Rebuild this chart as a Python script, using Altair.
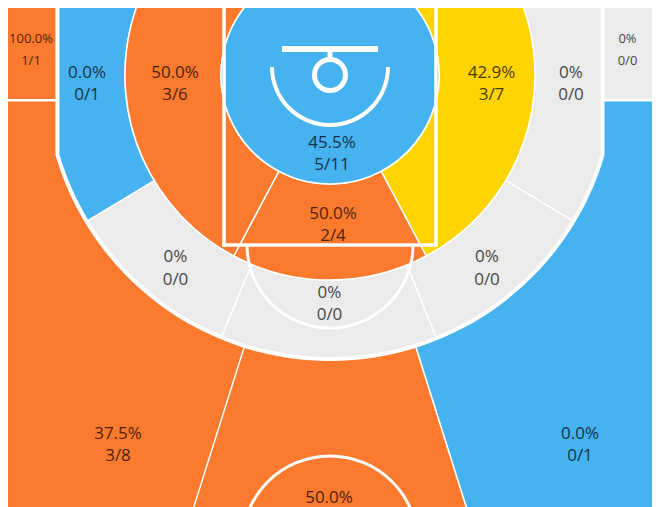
import math
import altair as alt
import pandas as pd

# ---------------- data ----------------
zone_keys = ["left_corner3", "left_base_mid", "left_inner", "restricted", "right_inner",
             "right_base_mid", "right_corner3", "center_inner", "left_wing_mid", "center_mid",
             "right_wing_mid", "left_wing3", "center3", "right_wing3"]
zone_pct = ["100.0%", "0.0%", "50.0%", "45.5%", "42.9%", "0%", "0%", "50.0%", "0%", "0%",
            "0%", "37.5%", "50.0%", "0.0%"]
zone_made_att = ["1/1", "0/1", "3/6", "5/11", "3/7", "0/0", "0/0", "2/4", "0/0", "0/0",
                 "0/0", "3/8", "", "0/1"]
zone_level = ["hot", "cold", "hot", "cold", "avg", "none", "none", "hot", "none", "none",
              "none", "hot", "hot", "cold"]

level_names = ["hot", "avg", "cold", "none"]
level_colors = ["#FC7A2E", "#FFD400", "#47B2F0", "#EBEBEB"]

data = pd.DataFrame({"zone": zone_keys, "pct": zone_pct, "made_att": zone_made_att,
                     "level": zone_level})

# ---------------- court layout (pixel geometry) ----------------
CX, CY = 330, 75          # basket centre
R_C, R_IN, R_3 = 109, 205, 284

def theta(a_deg):
    # angle measured from straight down, positive toward the left side
    return math.pi + math.radians(a_deg)

far_sectors = [("right_wing3", 0, 1300, -113, -17.5),
               ("center3", 0, 1300, -17.5, 17.5)]
outer_band = [("right_base_mid", R_IN, R_3, -180, -59),
              ("right_wing_mid", R_IN, R_3, -59, -22),
              ("center_mid", R_IN, R_3, -22, 22.5),
              ("left_wing_mid", R_IN, R_3, 22.5, 59),
              ("left_base_mid", R_IN, R_3, 59, 180)]
inner_band = [("right_inner", R_C, R_IN, -180, -28),
              ("center_inner", R_C, R_IN, -28, 28),
              ("left_inner", R_C, R_IN, 28, 180)]
circle_zone = [("restricted", 0, R_C, -180, 180)]

background_rect = [("left_wing3", 8, 652, 8, 507)]
edge_rects = [("left_corner3", 8, 57, 8, 100),
              ("right_corner3", 603, 652, 8, 100),
              ("left_wing3", 8, 57, 100, 153),
              ("right_wing3", 603, 652, 100, 153)]

white_rects = [(55.5, 59.5, 0, 153), (600.5, 604.5, 0, 153),        # 3pt straight lines
               (8, 57, 99, 101.5), (603, 652, 99, 101.5),            # corner separators
               (222.3, 225.8, 0, 246.8), (434.2, 437.7, 0, 246.8),   # lane sides
               (222.3, 437.7, 243.2, 246.8),                         # lane bottom
               (282, 378, 46, 52), (327.5, 332.5, 52, 58)]           # backboard + neck
white_rings = [(CX, CY, 282, 286, -74, 74),        # 3pt arc
               (330, 245, 81.5, 84.5, -90, 90),    # free-throw arc
               (330, 67, 56, 60, -90, 90),         # restricted-area arc
               (CX, CY, 13, 18, -180, 180),        # rim
               (330, 544, 86.5, 89.5, -180, 180)]  # centre circle

label_pos = {  # zone: (x, y of %, y of made/att, font size)
    "left_corner3": (31, 39, 61, 13), "right_corner3": (627.5, 39, 61, 13),
    "left_base_mid": (87, 73, 95, 17), "left_inner": (175, 73, 95, 17),
    "restricted": (332, 142.5, 164.5, 17), "right_inner": (491.5, 73, 95, 17),
    "right_base_mid": (571, 73, 95, 17), "center_inner": (333, 214, 236, 17),
    "left_wing_mid": (175.5, 257, 279.5, 17), "center_mid": (329.5, 292.5, 314.5, 17),
    "right_wing_mid": (487, 257, 279.5, 17), "left_wing3": (118, 434, 456, 17),
    "center3": (329, 497.5, 521, 17), "right_wing3": (580, 434, 456, 17),
}

# ---------------- helpers ----------------
xs = alt.Scale(domain=[8, 652], nice=False, zero=False)
ys = alt.Scale(domain=[8, 507], nice=False, zero=False, reverse=True)
cs = alt.Scale(domain=level_names, range=level_colors)


def sector_df(rows):
    df = pd.DataFrame(rows, columns=["zone", "ri", "ro", "a0", "a1"]).merge(data, on="zone")
    df["cx"], df["cy"] = CX, CY
    df["t0"] = df["a0"].map(theta)
    df["t1"] = df["a1"].map(theta)
    return df


def arc_layer(df, color, stroke_w=1.5):
    return alt.Chart(df).mark_arc(clip=True, stroke="white", strokeWidth=stroke_w).encode(
        x=alt.X("cx:Q", scale=xs, axis=None),
        y=alt.Y("cy:Q", scale=ys, axis=None),
        theta=alt.Theta("t0:Q", scale=None, stack=False),
        theta2="t1:Q",
        radius=alt.Radius("ro:Q", scale=None),
        radius2="ri:Q",
        color=color,
    )


def rect_zone_layer(rows):
    df = pd.DataFrame(rows, columns=["zone", "x0", "x1", "y0", "y1"]).merge(data, on="zone")
    return alt.Chart(df).mark_rect(clip=True).encode(
        x=alt.X("x0:Q", scale=xs, axis=None), x2="x1:Q",
        y=alt.Y("y0:Q", scale=ys, axis=None), y2="y1:Q",
        color=alt.Color("level:N", scale=cs, legend=None),
    )


zone_color = alt.Color("level:N", scale=cs, legend=None)

layers = [rect_zone_layer(background_rect)]
for group in (far_sectors, outer_band, inner_band, circle_zone):
    layers.append(arc_layer(sector_df(group), zone_color))
layers.append(rect_zone_layer(edge_rects))

wr = pd.DataFrame(white_rects, columns=["x0", "x1", "y0", "y1"])
layers.append(alt.Chart(wr).mark_rect(clip=True, color="white").encode(
    x=alt.X("x0:Q", scale=xs, axis=None), x2="x1:Q",
    y=alt.Y("y0:Q", scale=ys, axis=None), y2="y1:Q"))

rings = pd.DataFrame(white_rings, columns=["cx", "cy", "ri", "ro", "a0", "a1"])
rings["t0"] = rings["a0"].map(theta)
rings["t1"] = rings["a1"].map(theta)
layers.append(alt.Chart(rings).mark_arc(clip=True, color="white").encode(
    x=alt.X("cx:Q", scale=xs, axis=None),
    y=alt.Y("cy:Q", scale=ys, axis=None),
    theta=alt.Theta("t0:Q", scale=None, stack=False),
    theta2="t1:Q",
    radius=alt.Radius("ro:Q", scale=None),
    radius2="ri:Q"))

lab = data.copy()
lab["lx"] = lab["zone"].map(lambda z: label_pos[z][0])
lab["ly1"] = lab["zone"].map(lambda z: label_pos[z][1])
lab["ly2"] = lab["zone"].map(lambda z: label_pos[z][2])
lab["fs"] = lab["zone"].map(lambda z: label_pos[z][3])

for field, ycol in (("pct", "ly1"), ("made_att", "ly2")):
    layers.append(alt.Chart(lab).mark_text(
        clip=True, font="Open Sans", color="black", opacity=0.72, baseline="middle",
        align="center").encode(
        x=alt.X("lx:Q", scale=xs, axis=None),
        y=alt.Y(f"{ycol}:Q", scale=ys, axis=None),
        text=f"{field}:N",
        size=alt.Size("fs:Q", scale=None)))

chart = alt.layer(*layers).properties(
    width=644, height=499, padding=0, autosize="none", background="white"
).configure_view(strokeWidth=0)

chart.save("out.html", embed_options={"renderer": "svg", "actions": False})
